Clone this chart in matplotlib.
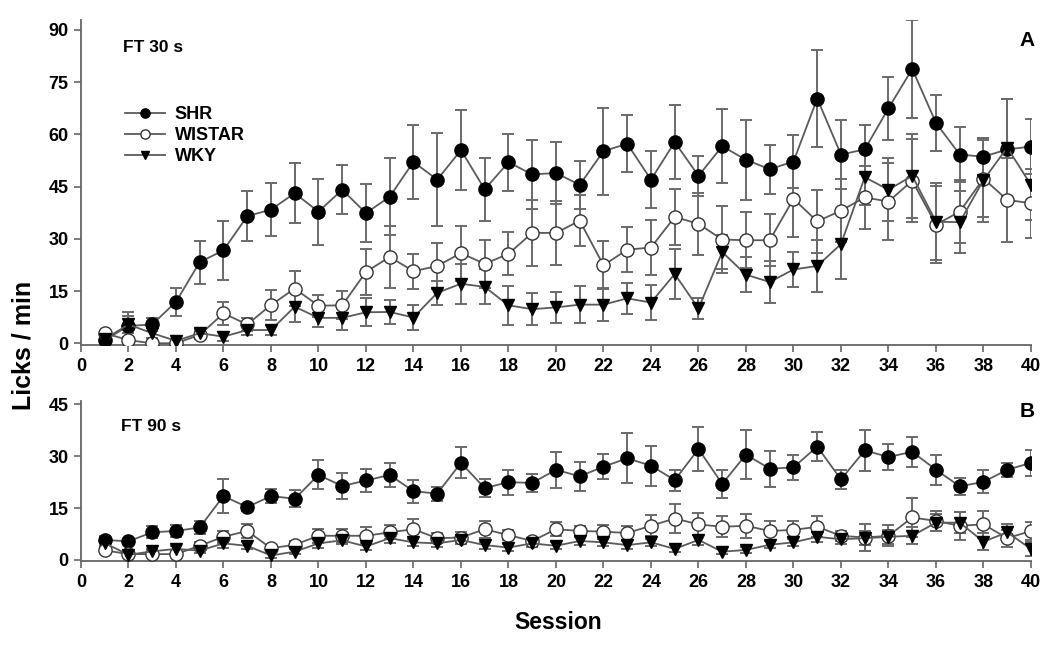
import matplotlib
matplotlib.use("Agg")
import matplotlib.pyplot as plt
import numpy as np

plt.rcParams['font.family'] = ['Liberation Sans', 'DejaVu Sans']
plt.rcParams['font.weight'] = 'bold'

sessions = list(range(1, 41))

# Panel A: FT 30 s
shr_a = [0.9, 5.0, 5.4, 11.9, 23.3, 26.7, 36.5, 38.4, 43.1, 37.8,
         44.1, 37.4, 42.1, 52.1, 47.0, 55.5, 44.2, 52.0, 48.5, 48.9,
         45.5, 55.2, 57.3, 47.0, 57.8, 48.1, 56.6, 52.7, 50.0, 52.2,
         70.3, 54.2, 55.7, 67.5, 78.8, 63.3, 54.2, 53.6, 55.7, 56.5]
shr_a_err = [0.6, 4.0, 2.0, 4.0, 6.2, 8.5, 7.1, 7.5, 8.6, 9.5,
             7.0, 8.4, 11.0, 10.7, 13.3, 11.4, 9.1, 8.2, 9.8, 9.0,
             7.0, 12.5, 8.2, 8.1, 10.5, 5.7, 10.7, 11.5, 7.0, 7.5,
             14.0, 10.0, 7.0, 9.0, 14.0, 8.0, 8.0, 5.5, 14.5, 8.0]
wis_a = [2.9, 0.9, 0.0, 0.0, 2.4, 8.6, 5.4, 11.0, 15.7, 10.8,
         10.9, 20.5, 24.8, 20.7, 22.2, 25.9, 22.8, 25.7, 31.7, 31.7,
         35.2, 22.4, 26.9, 27.5, 36.3, 34.3, 29.8, 29.6, 29.6, 41.5,
         35.0, 38.1, 41.9, 40.7, 46.7, 34.1, 37.8, 47.3, 41.2, 40.2]
wis_a_err = [0.6, 0.8, 0.5, 0.5, 1.2, 3.3, 2.0, 4.3, 5.0, 3.2,
             4.0, 6.6, 8.8, 5.0, 6.7, 7.9, 6.9, 6.2, 9.5, 9.3,
             7.4, 6.9, 6.4, 7.9, 8.0, 9.0, 9.5, 8.0, 7.5, 11.0,
             9.0, 9.0, 9.0, 11.0, 12.0, 11.0, 9.0, 11.0, 12.0, 10.0]
wky_a = [1.2, 5.4, 2.9, 0.7, 2.9, 1.9, 3.8, 3.8, 10.5, 7.3,
         7.3, 8.9, 9.0, 7.4, 14.5, 17.1, 16.2, 10.9, 9.8, 10.3,
         11.1, 11.1, 12.9, 11.7, 19.9, 10.0, 26.2, 19.7, 17.6, 21.2,
         22.2, 28.5, 47.7, 44.1, 48.1, 34.9, 34.8, 46.9, 56.2, 45.5]
wky_a_err = [0.6, 2.5, 1.5, 0.6, 1.2, 1.2, 1.5, 1.5, 4.3, 2.5,
             3.5, 4.0, 3.5, 3.7, 3.5, 5.7, 5.0, 5.6, 4.5, 4.5,
             5.3, 4.8, 4.5, 5.0, 7.2, 3.0, 5.0, 5.0, 6.0, 5.0,
             7.5, 10.0, 8.0, 9.0, 12.0, 11.0, 9.0, 12.0, 14.0, 10.0]

# Panel B: FT 90 s
shr_b = [5.8, 5.4, 8.0, 8.4, 9.4, 18.5, 15.3, 18.5, 17.7, 24.6,
         21.4, 23.0, 24.6, 19.9, 19.2, 28.1, 20.8, 22.5, 22.3, 26.1,
         24.2, 27.0, 29.4, 27.3, 23.1, 32.1, 22.0, 30.5, 26.4, 26.8,
         32.8, 23.3, 31.7, 29.8, 31.3, 26.1, 21.3, 22.6, 26.1, 28.1]
shr_b_err = [1.0, 0.8, 1.7, 1.8, 2.0, 5.0, 1.0, 1.9, 2.5, 4.2,
             3.8, 3.2, 3.5, 3.3, 2.0, 4.5, 2.5, 3.6, 2.5, 5.2,
             4.2, 3.7, 7.2, 5.8, 3.0, 6.3, 4.0, 7.1, 5.2, 3.7,
             4.1, 2.8, 5.9, 3.7, 4.4, 4.4, 2.5, 3.3, 2.1, 3.8]
wis_b = [2.8, 1.7, 1.7, 1.7, 4.1, 6.7, 8.4, 3.4, 4.4, 7.0,
         7.0, 7.0, 8.0, 8.9, 6.3, 6.5, 8.9, 7.2, 5.5, 8.9,
         8.4, 8.2, 7.8, 9.9, 12.0, 10.3, 9.6, 9.9, 8.4, 8.7,
         9.6, 7.0, 6.5, 7.0, 12.3, 11.3, 9.9, 10.3, 6.3, 8.4]
wis_b_err = [0.8, 0.6, 0.6, 0.6, 1.0, 1.7, 1.9, 0.8, 1.0, 2.1,
             2.0, 2.5, 2.0, 2.9, 1.5, 1.5, 2.5, 1.5, 1.0, 2.0,
             1.5, 2.0, 2.0, 3.0, 4.3, 3.2, 3.0, 3.5, 3.0, 2.5,
             3.0, 1.5, 4.0, 3.0, 5.7, 3.0, 4.0, 4.0, 2.5, 2.5]
wky_b = [4.9, 1.5, 2.5, 3.2, 2.7, 4.8, 4.1, 1.3, 2.4, 4.8,
         5.7, 3.9, 6.3, 5.1, 4.8, 5.8, 4.3, 3.6, 4.8, 4.1,
         5.5, 5.1, 4.3, 5.1, 3.2, 5.8, 2.4, 2.9, 4.4, 5.1,
         6.7, 6.0, 6.3, 6.7, 7.0, 10.8, 10.8, 5.3, 8.0, 3.2]
wky_b_err = [0.8, 0.6, 0.6, 0.8, 0.8, 1.2, 1.0, 0.6, 0.8, 1.2,
             1.2, 1.0, 1.5, 1.0, 1.0, 1.2, 1.0, 1.0, 1.0, 1.0,
             1.2, 1.2, 1.2, 1.0, 1.0, 1.5, 0.8, 0.8, 1.0, 1.2,
             1.5, 1.5, 2.0, 2.0, 2.5, 2.5, 3.0, 2.5, 2.5, 2.0]

series_labels = ['SHR', 'WISTAR', 'WKY']
xticks = list(range(0, 41, 2))

fig = plt.figure(figsize=(10.5, 6.5), dpi=100)
ax_a = fig.add_axes([0.0771, 0.4692, 0.9048, 0.5008])
ax_b = fig.add_axes([0.0771, 0.1369, 0.9048, 0.2462])

line_col = '#5a5a5a'
err_col = '#6a6a6a'

def draw(ax, data, ylim, yticks):
    styles = [
        dict(marker='o', mfc='black', mec='black', ms=9.5),
        dict(marker='o', mfc='white', mec='#333333', ms=9.5),
        dict(marker='v', mfc='black', mec='black', ms=9),
    ]
    handles = []
    order = [2, 1, 0]
    for i in order:
        y, e = data[i]
        ax.errorbar(sessions, y, yerr=e, fmt='none', ecolor=err_col,
                    elinewidth=1.4, capsize=4, capthick=1.4, zorder=2 + i)
    for i in order:
        y, e = data[i]
        st = styles[i]
        h, = ax.plot(sessions, y, color=line_col, lw=1.3, marker=st['marker'],
                     mfc=st['mfc'], mec=st['mec'], ms=st['ms'], mew=1.0,
                     label=series_labels[i], zorder=5 + i)
        handles.append(h)
    ax.set_xlim(0, 40)
    ax.set_ylim(*ylim)
    ax.set_xticks(xticks)
    ax.set_yticks(yticks)
    for s in ['top', 'right']:
        ax.spines[s].set_visible(False)
    for s in ['left', 'bottom']:
        ax.spines[s].set_color('#666666')
        ax.spines[s].set_linewidth(1.3)
    ax.tick_params(direction='out', length=5, width=1.2, color='#666666',
                   labelsize=13, pad=4)
    for lab in ax.get_xticklabels() + ax.get_yticklabels():
        lab.set_fontweight('bold')
    return handles[::-1]

h = draw(ax_a, [(shr_a, shr_a_err), (wis_a, wis_a_err), (wky_a, wky_a_err)],
         (-0.5, 93), [0, 15, 30, 45, 60, 75, 90])
draw(ax_b, [(shr_b, shr_b_err), (wis_b, wis_b_err), (wky_b, wky_b_err)],
     (-0.3, 46), [0, 15, 30, 45])

leg = ax_a.legend(handles=h, loc='upper left', bbox_to_anchor=(0.039, 0.756),
                  borderaxespad=0, frameon=False, handlelength=2.2,
                  handletextpad=0.55, labelspacing=0.22, markerscale=0.7,
                  prop={'weight': 'bold', 'size': 13})

ax_a.text(0.044, 0.9155, 'FT 30 s', transform=ax_a.transAxes, fontsize=12.5,
          fontweight='bold', va='center', ha='left')
ax_a.text(0.996, 0.937, 'A', transform=ax_a.transAxes, fontsize=15,
          fontweight='bold', va='center', ha='center')
ax_b.text(0.042, 0.839, 'FT 90 s', transform=ax_b.transAxes, fontsize=12.5,
          fontweight='bold', va='center', ha='left')
ax_b.text(0.996, 0.933, 'B', transform=ax_b.transAxes, fontsize=15,
          fontweight='bold', va='center', ha='center')

fig.text(0.022, 0.469, 'Licks / min', rotation=90, fontsize=18,
         fontweight='bold', va='center', ha='center')
fig.text(0.532, 0.042, 'Session', fontsize=16.5, fontweight='bold',
         va='center', ha='center')

fig.savefig('out.png', dpi=100)
